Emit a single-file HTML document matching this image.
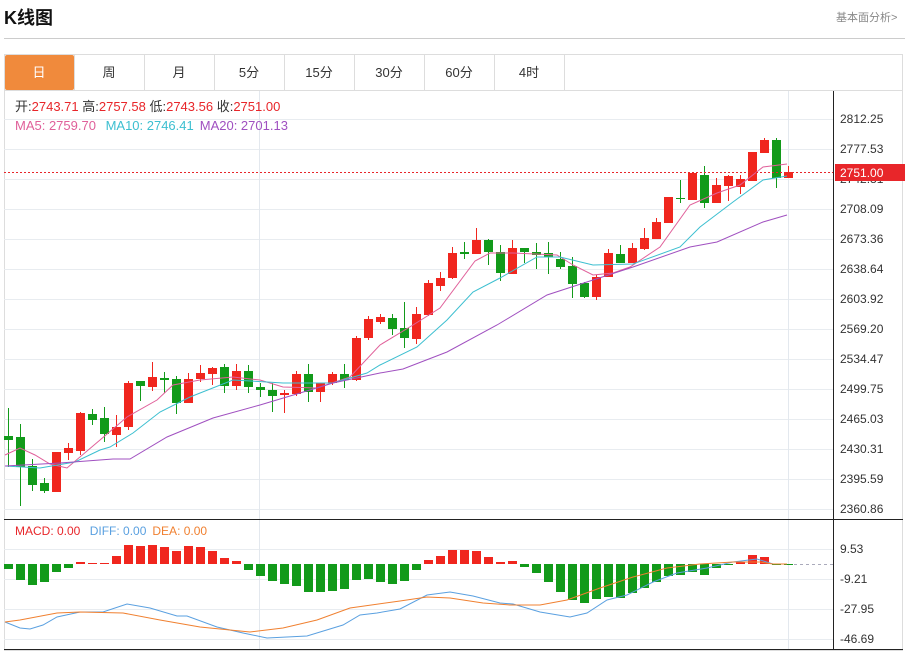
<!DOCTYPE html>
<html><head><meta charset="utf-8"><style>
body{margin:0;background:#fff;width:907px;height:651px;overflow:hidden;font-family:"Liberation Sans","Noto Sans CJK SC",sans-serif;}
svg{position:absolute;left:0;top:0}
</style></head><body>
<svg id="s" width="907" height="651" xmlns="http://www.w3.org/2000/svg" font-family="Liberation Sans, Noto Sans CJK SC, sans-serif">
<text x="4" y="24" font-size="18" font-weight="bold" fill="#111">K线图</text>
<text x="836" y="21" font-size="11" fill="#888">基本面分析&gt;</text>
<line x1="4" y1="38.5" x2="905" y2="38.5" stroke="#ccc"/>
<rect x="4.5" y="54.5" width="898" height="596" fill="none" stroke="#ddd"/>
<line x1="4" y1="90.5" x2="903" y2="90.5" stroke="#ddd"/>
<rect x="5" y="55" width="69" height="35" fill="#f08a3c" rx="2"/>
<g font-size="13" fill="#333" text-anchor="middle">
<text x="39" y="77" fill="#fff">日</text>
<line x1="74.5" y1="55" x2="74.5" y2="90" stroke="#ddd"/>
<text x="109" y="77">周</text><line x1="144.5" y1="55" x2="144.5" y2="90" stroke="#ddd"/>
<text x="179" y="77">月</text><line x1="214.5" y1="55" x2="214.5" y2="90" stroke="#ddd"/>
<text x="249" y="77">5分</text><line x1="284.5" y1="55" x2="284.5" y2="90" stroke="#ddd"/>
<text x="319" y="77">15分</text><line x1="354.5" y1="55" x2="354.5" y2="90" stroke="#ddd"/>
<text x="389" y="77">30分</text><line x1="424.5" y1="55" x2="424.5" y2="90" stroke="#ddd"/>
<text x="459" y="77">60分</text><line x1="494.5" y1="55" x2="494.5" y2="90" stroke="#ddd"/>
<text x="529" y="77">4时</text><line x1="564.5" y1="55" x2="564.5" y2="90" stroke="#ddd"/>
</g>
<g id="grid"></g>
<line x1="259.5" y1="91" x2="259.5" y2="649" stroke="#e3e8ee"/>
<line x1="788.5" y1="91" x2="788.5" y2="649" stroke="#e3e8ee"/>
<g id="cdl"></g>
<g id="ma" fill="none" stroke-width="1"></g>
<line x1="4" y1="172.5" x2="833" y2="172.5" stroke="#e8262a" stroke-dasharray="2,2"/>
<line x1="833.5" y1="91" x2="833.5" y2="649" stroke="#222"/>
<line x1="4" y1="519.5" x2="903" y2="519.5" stroke="#222"/>
<line x1="4" y1="649.5" x2="903" y2="649.5" stroke="#222"/>
<g id="ticks" font-size="12" fill="#333"></g>
<rect x="835" y="164" width="70" height="17" fill="#e8262a"/>
<text x="840" y="177" font-size="12" fill="#fff">2751.00</text>
<g font-size="13">
<text x="15" y="111" fill="#333">开:<tspan fill="#e8262a">2743.71</tspan>  高:<tspan fill="#e8262a">2757.58</tspan>  低:<tspan fill="#e8262a">2743.56</tspan>  收:<tspan fill="#e8262a">2751.00</tspan></text>
<text x="15" y="130" fill="#e0609a">MA5: 2759.70 <tspan fill="#3cbfd0" dx="6">MA10: 2746.41</tspan><tspan fill="#a050c0" dx="6">MA20: 2701.13</tspan></text>
<text x="15" y="535" fill="#e8262a" font-size="12">MACD: 0.00 <tspan fill="#5aa0e0" dx="6">DIFF: 0.00</tspan><tspan fill="#f08030" dx="6">DEA: 0.00</tspan></text>
</g>
</svg>
<script>
var N='http://www.w3.org/2000/svg';
function el(p,t,a){var e=document.createElementNS(N,t);for(var k in a)e.setAttribute(k,a[k]);document.getElementById(p).appendChild(e);return e;}
var ty=[119,149,179,209,239,269,299,329,359,389,419,449,479,509];
var tl=['2812.25','2777.53','2742.81','2708.09','2673.36','2638.64','2603.92','2569.20','2534.47','2499.75','2465.03','2430.31','2395.59','2360.86'];
ty.forEach(function(y,i){el('grid','line',{x1:4,x2:833,y1:y+.5,y2:y+.5,stroke:'#e8ecf0'});var t=el('ticks','text',{x:840,y:y+4});t.textContent=tl[i];});
var my=[549,579,609,639],ml=['9.53','-9.21','-27.95','-46.69'];
my.forEach(function(y,i){el('grid','line',{x1:4,x2:833,y1:y+.5,y2:y+.5,stroke:'#e8ecf0'});var t=el('ticks','text',{x:840,y:y+4});t.textContent=ml[i];});
el('grid','line',{x1:788,x2:833,y1:564.5,y2:564.5,stroke:'#aab','stroke-dasharray':'3,3'});
var C=[[436,440,408,467,0],[437,467,424,506,0],[466,485,459,491,0],[483,491,478,493,0],[452,492,452,492,1],[448,453,443,460,1],[413,451,412,455,1],[414,420,409,425,0],[418,434,407,442,0],[427,435,415,447,1],[383,427,381,430,1],[381,386,381,401,0],[377,387,362,391,1],[378,380,372,393,0],[379,403,376,414,0],[379,403,373,403,1],[373,379,365,382,1],[368,374,367,385,1],[367,386,364,393,0],[371,386,364,390,1],[371,387,365,393,0],[387,390,383,397,0],[390,396,383,412,0],[393,395,390,413,1],[374,394,371,396,1],[374,392,364,402,0],[383,392,383,402,1],[374,383,372,385,1],[374,380,364,388,0],[338,380,336,381,1],[319,338,316,340,1],[317,322,314,324,1],[318,329,314,335,0],[328,338,302,348,0],[314,339,307,344,1],[283,315,280,316,1],[278,286,272,291,1],[253,278,247,279,1],[252,254,242,259,0],[240,254,228,254,1],[240,252,239,265,0],[252,273,245,281,0],[248,274,240,274,1],[248,252,248,263,0],[252,255,243,269,0],[253,257,242,274,0],[259,267,252,269,0],[266,284,257,298,0],[283,297,282,298,0],[277,297,275,300,1],[253,277,249,277,1],[254,263,245,263,0],[248,263,243,263,1],[238,249,228,250,1],[222,239,218,239,1],[197,223,197,223,1],[198,199,180,203,0],[173,200,173,200,1],[175,203,166,208,0],[185,203,178,203,1],[176,186,175,201,1],[179,187,175,194,1],[152,181,152,181,1],[140,153,138,153,1],[140,178,138,188,0],[172,178,166,178,1]];
var H=[569,580,585,582,572,568,562,563,563,556,545,546,545,547,551,546,547,551,558,561,570,576,581,584,586,592,592,591,589,580,579,582,584,581,570,560,556,550,550,551,557,562,561,567,573,582,592,600,603,599,597,598,593,588,582,576,575,572,575,568,565,562,555,557,565,565];
C.forEach(function(c,i){var x=8+12*i,col=c[4]?'#f0261e':'#129a1a';
el('cdl','line',{x1:x+.5,x2:x+.5,y1:c[2],y2:c[3],stroke:col});
el('cdl','rect',{x:x-4,y:c[0],width:9,height:Math.max(1,c[1]-c[0]),fill:col});
var h=H[i],hc=h<564?'#f0261e':'#129a1a';
el('cdl','rect',{x:x-4,y:Math.min(h,564),width:9,height:Math.max(1,Math.abs(h-564)),fill:hc});});
function pl(c,p){el('ma','polyline',{points:p,stroke:c});}
pl('#e0609a','5,455 20,448 35,455 50,464 67,468 100,440 127,417 157,400 173,385 200,380 233,377 260,380 283,387 317,388 350,377 380,345 413,325 440,308 475,261 490,253 513,253 557,255 573,265 593,275 613,273 630,267 660,247 690,205 717,193 740,185 763,167 787,164');
pl('#3cbfd0','5,466 40,468 75,462 100,450 110,447 133,433 160,412 190,397 233,380 267,382 283,383 333,383 367,373 380,365 417,347 447,320 473,292 500,278 537,257 560,257 593,265 633,264 680,247 700,227 733,202 763,180 787,176');
pl('#a050c0','5,466 60,463 113,459 130,459 167,437 213,418 260,405 300,393 333,383 380,373 403,369 447,352 497,325 547,295 593,280 633,267 690,247 717,242 763,222 787,215');
pl('#5aa0e0','5,622 20,628 30,629 43,625 57,617 80,612 103,612 127,604 150,608 177,616 187,616 217,627 243,633 267,638 307,636 343,625 360,615 377,613 400,609 427,595 450,592 473,596 500,603 513,604 540,612 570,617 587,613 607,600 627,595 653,582 677,573 707,568 733,562 757,559 773,564 787,564');
pl('#f08030','5,622 20,620 57,613 80,612 123,613 160,620 200,627 250,632 283,628 317,620 350,608 400,601 427,597 450,598 483,603 510,605 540,605 567,600 600,588 633,577 667,568 700,564 733,562 760,562 773,564 787,564');
</script>
</body></html>
